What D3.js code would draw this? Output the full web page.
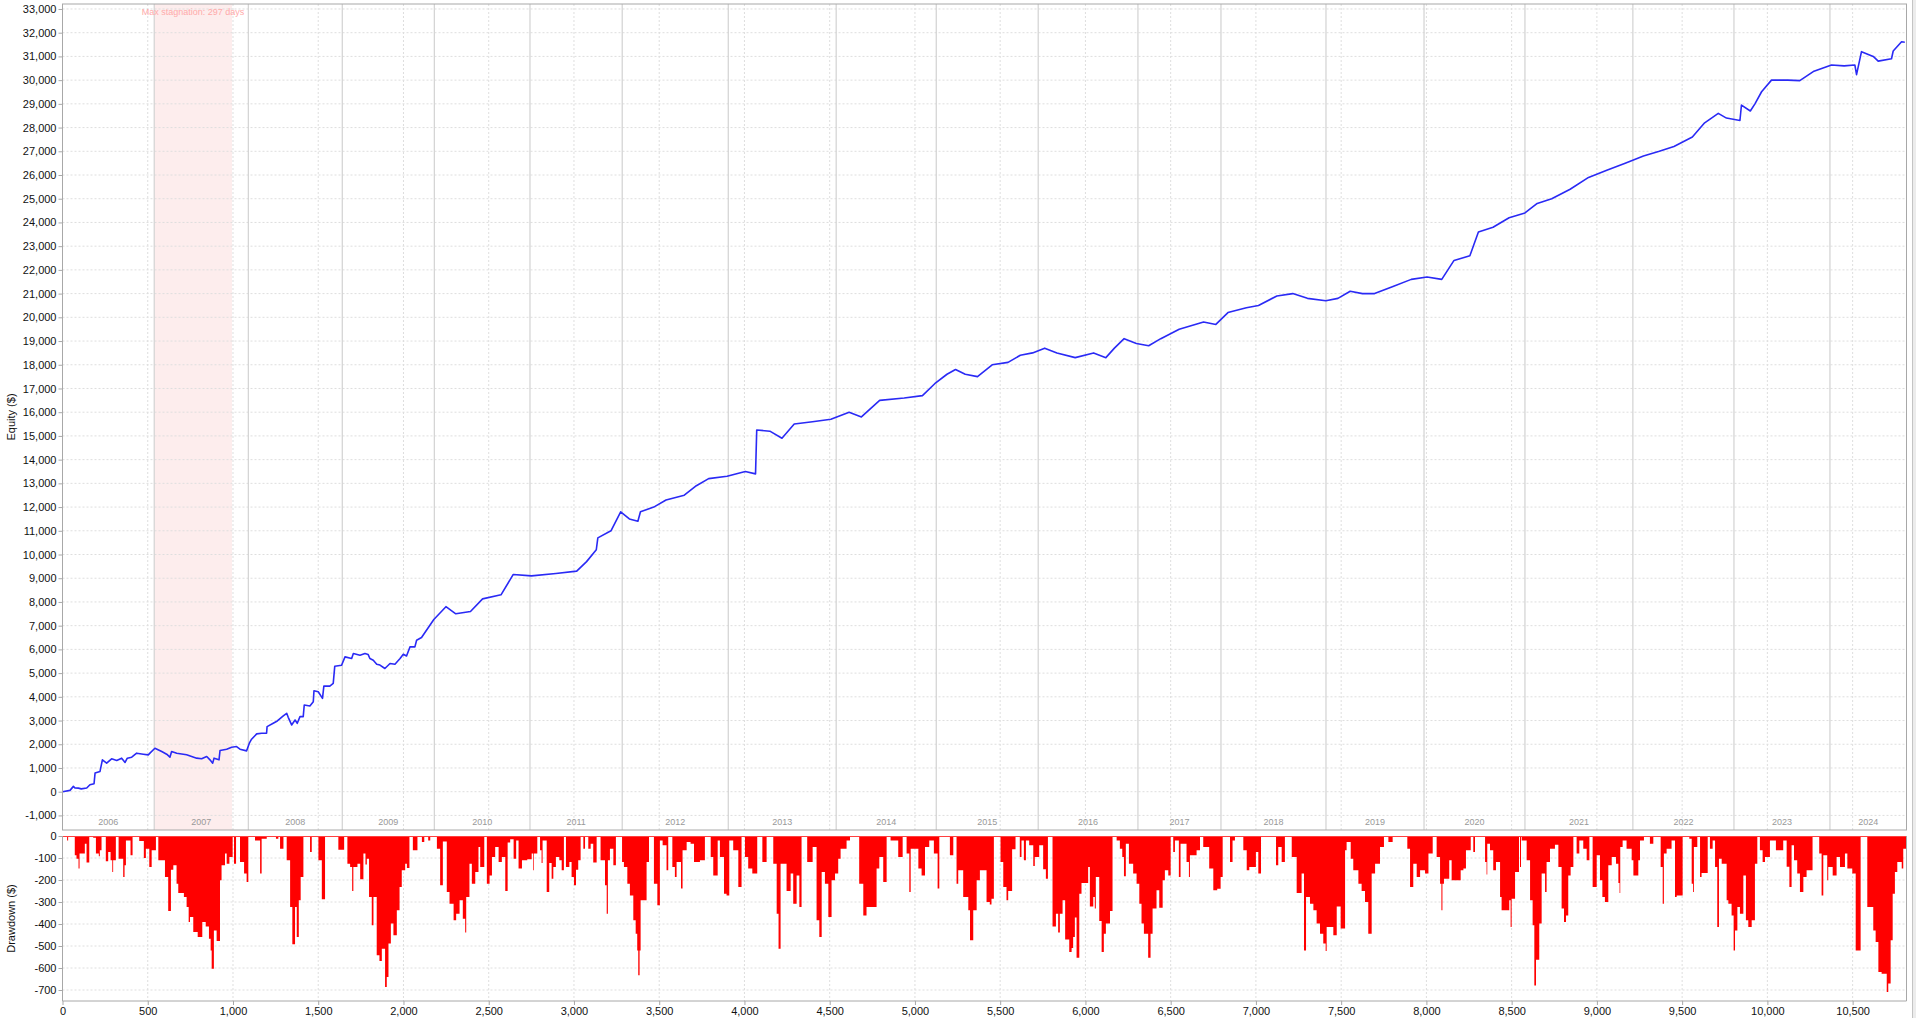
<!DOCTYPE html>
<html><head><meta charset="utf-8">
<script src="https://cdn.jsdelivr.net/npm/d3@7/dist/d3.min.js"></script>
<style>
html,body{margin:0;padding:0;background:#fff;}
svg{display:block;font-family:"Liberation Sans",Arial,sans-serif;}
</style></head>
<body>
<svg id="chart" width="1916" height="1018"></svg>
<script>
// ---------- DATA ----------
const tradeCount = 10816;
const years = ["2006","2007","2008","2009","2010","2011","2012","2013","2014","2015","2016","2017","2018","2019","2020","2021","2022","2023","2024"];
const yearStart = [0,538,1090,1641,2181,2742,3283,3905,4538,5125,5723,6308,6795,7411,7986,8578,9211,9804,10367];
const stagnationStart = 538, stagnationEnd = 994;
const stagnationLabel = "Max stagnation: 297 days";
const equityTicks = d3.range(-1000, 33001, 1000);
const drawdownTicks = d3.range(-700, 1, 100);
const tradeTicks = d3.range(0, 10501, 500);

// equity curve: trade index / equity ($)
const eqIdx = [0,44,64,73,93,110,142,161,185,191,220,234,259,288,318,347,367,380,406,435,474,503,513,542,582,611,630,640,670,728,787,816,846,865,881,889,918,924,963,992,1021,1041,1080,1096,1109,1139,1168,1197,1200,1236,1260,1295,1315,1324,1344,1364,1377,1393,1412,1418,1451,1471,1475,1500,1525,1533,1568,1588,1597,1637,1657,1696,1706,1745,1774,1793,1803,1823,1843,1862,1891,1921,1950,1980,1999,2018,2038,2067,2077,
 2106,2178,2249,2307,2393,2464,2572,2644,2751,2894,3016,3074,3131,3140,3217,3274,3325,3375,3390,3468,3540,3647,3718,3790,3898,4005,4065,4072,4149,4220,4292,4399,4507,4614,4686,4793,4937,5044,5116,5188,5238,5295,5367,5453,5546,5618,5690,5761,5833,5940,6048,6120,6170,6227,6299,6371,6442,6550,6693,6765,6836,6944,7015,7123,7216,7302,7410,7481,7553,7625,7696,7804,7911,8004,8090,8162,8255,8305,8391,8485,8578,8650,8735,8843,8951,9058,9166,9273,9366,9452,9560,9632,9712,9760,9839,9848,9900,9927,9966,10024,10120,10190,10269,10376,10450,10513,10523,10552,10621,10650,10728,10738,10787,10806];
const eqVal = [0,56,224,154,150,120,154,294,336,784,854,1344,1204,1386,1316,1414,1232,1414,1456,1624,1582,1554,1624,1834,1694,1582,1456,1694,1624,1554,1414,1386,1484,1344,1204,1414,1344,1736,1792,1876,1904,1792,1722,2044,2212,2436,2464,2464,2744,2884,2982,3192,3304,3136,2814,3024,2884,3164,3164,3654,3612,3794,4256,4214,3934,4452,4452,4564,5292,5334,5684,5614,5824,5754,5824,5780,5614,5544,5376,5340,5194,5404,5376,5614,5796,5720,6104,6104,6384,
 6500,7257,7800,7500,7600,8130,8300,9160,9100,9200,9300,9700,10200,10700,11000,11800,11500,11400,11800,12000,12300,12500,12900,13200,13300,13500,13400,15250,15200,14900,15500,15600,15700,16000,15800,16500,16600,16700,17200,17600,17800,17600,17500,18000,18100,18400,18500,18700,18500,18300,18500,18300,18700,19100,18900,18800,19100,19500,19800,19700,20200,20400,20500,20900,21000,20800,20700,20800,21100,21000,21000,21300,21600,21700,21600,22400,22600,23600,23800,24200,24400,24800,25000,25400,25900,26200,26500,26800,27000,27200,27600,28200,28600,28400,28300,28950,28700,29000,29510,30000,30000,29980,30360,30640,30600,30640,30230,31200,31000,30800,30900,31230,31620,31600];

// drawdown: trade index where a level starts / drawdown ($)
const ddIdx = [0,27,33,72,82,94,100,131,141,157,180,196,213,219,229,254,268,282,292,297,313,329,356,364,372,399,411,450,477,489,509,523,548,562,601,620,636,650,669,679,712,728,740,748,767,793,820,840,859,869,875,888,904,924,933,953,963,979,998,1006,1018,1041,1065,1080,1090,1129,1159,1168,1198,1252,1266,1276,1296,1315,1335,1348,1364,1374,1386,1397,1413,1452,1462,1501,1521,1540,1618,1652,1671,1687,1699,1706,1730,1746,1765,1777,1785,1798,1814,1824,1843,1859,1873,1892,1902,1912,1926,1941,1961,1977,1990,2010,2020,2035,2055,2082,2108,2122,2145,2157,2196,2215,2231,2254,2270,2294,2309,2329,2348,2362,2368,2387,2401,2421,2440,2450,2474,2489,2505,2519,2538,2558,2577,2597,2611,2626,2646,2661,2675,2695,
 2726,2752,2761,2765,2785,2801,2810,2816,2840,2855,2869,2879,2894,2914,2928,2941,2953,2973,2986,3000,3012,3025,3039,3055,3065,3084,3098,3113,3133,3156,3182,3192,3199,3211,3231,3246,3282,3293,3313,3328,3348,3362,3371,3377,3385,3391,3426,3440,3469,3489,3504,3520,3543,3553,3577,3592,3602,3628,3637,3661,3684,3704,3739,3768,3802,3817,3843,3856,3880,3895,3911,3934,3964,3983,4003,4022,4046,4075,4105,4130,4169,4189,4200,4212,4247,4271,4286,4306,4322,4335,4368,4400,4423,4439,4453,4472,4492,4511,4531,4550,4564,4599,4619,4673,4697,4716,4775,4791,4814,4834,4857,4902,4928,4951,4967,4975,5020,5039,5059,5084,5111,5133,5143,5205,5225,5244,5254,5283,5313,5323,5342,5362,5381,
 5420,5439,5449,5463,5502,5518,5537,5547,5570,5590,5615,5625,5639,5651,5670,5694,5703,5729,5752,5768,5780,5807,5827,5840,5850,5866,5881,5905,5919,5928,5938,5948,5964,5977,6016,6026,6046,6055,6061,6081,6095,6108,6120,6144,6159,6183,6202,6216,6226,6237,6255,6280,6300,6316,6329,6343,6368,6382,6394,6417,6433,6453,6466,6486,6500,6515,6525,6548,6558,6593,6607,6613,6652,6672,6691,6726,6750,6773,6793,6805,6848,6863,6877,6926,6946,6961,7000,7014,7030,7118,7131,7151,7170,7210,7239,7268,7282,7294,7317,7337,7356,7376,7395,7409,7415,7454,7474,7497,7523,7532,7556,7571,7601,7620,7640,7659,7679,7699,7728,7751,7777,7802,7888,7904,7923,7943,7963,7992,8012,8037,8060,8080,8088,8094,
 8103,8134,8148,8201,8217,8232,8260,8275,8285,8344,8353,8357,8373,8392,8408,8432,8441,8486,8494,8500,8520,8543,8549,8555,8559,8588,8608,8623,8633,8643,8662,8676,8696,8705,8725,8754,8774,8793,8807,8819,8832,8846,8862,8881,8897,8920,8940,8956,8975,8999,9018,9032,9047,9067,9087,9112,9126,9133,9137,9151,9174,9204,9214,9243,9253,9276,9311,9331,9374,9386,9393,9409,9438,9458,9468,9503,9542,9556,9564,9569,9589,9605,9614,9650,9663,9679,9693,9706,9716,9732,9761,9771,9790,9802,9810,9824,9839,9859,9874,9888,9908,9927,9941,9956,9972,9986,10015,10050,10093,10113,10129,10142,10156,10175,10191,10211,10230,10265,10304,10318,10328,10351,10357,10383,10406,10426,10455,10469,10498,10518,10547,10586,10621,10635,10651,10670,10700,10709,10723,10735,10748,10762,10788,10797];
const ddVal = [0,-20,0,-88,-103,-148,-80,-35,-121,0,-8,-80,-92,-65,0,-115,-73,-110,-164,-110,0,-103,-186,-133,-20,-88,0,-23,-100,-58,-141,-65,0,-110,-186,-341,-153,-133,-217,-259,-277,-323,-391,-368,-436,-459,-391,-411,-467,-520,-603,-429,-477,-201,-133,-80,-126,-95,0,-126,-5,-118,-171,-209,0,-20,-171,-12,0,-12,0,-58,0,-110,-323,-492,-323,-459,-292,-186,0,-73,0,-110,-288,0,-62,0,-126,-141,-250,-141,-126,-197,-80,-130,-103,-277,-406,-277,-542,-568,-512,-686,-641,-489,-398,-451,-338,-232,-156,-126,-145,0,-65,0,-27,0,-20,0,-58,-224,-25,-255,-308,-383,-353,-292,-376,-439,-277,-126,-217,-164,-50,-141,0,-217,-179,-95,-50,-118,-95,-250,-30,-15,-103,-20,-148,-110,
 -106,-80,-156,-80,0,-65,-123,-20,-255,-123,-194,-141,-95,-110,-156,0,-141,-118,-186,-224,-153,-110,0,-58,0,-58,-35,-121,0,-110,-224,-353,-110,-58,-133,0,-118,-141,-217,-270,-383,-444,-520,-633,-520,-292,-118,0,-217,-315,-20,-42,-156,0,-141,-186,-118,-239,-65,-27,-35,-118,-110,-5,-95,-179,-20,-95,-262,-270,-20,-65,-232,0,-95,-148,-171,0,-118,0,-126,-353,-512,-126,-250,-171,-308,-180,-323,0,-118,-50,-383,-459,-164,-217,-368,-201,-171,-103,-58,-20,0,-217,-361,-323,-148,-95,-209,0,-20,-95,0,-80,-255,-58,-148,-179,-50,-20,-80,-239,0,-88,0,-217,-156,-277,-338,-474,-338,-201,-156,
 -300,-311,-285,0,-118,-232,-292,-250,-60,0,-95,-20,-110,-20,-42,-136,-95,-42,-151,-194,0,-411,-353,-439,-353,-292,-471,-527,-509,-459,-370,-553,-262,-214,-141,-320,-277,-330,-186,-386,-527,-444,-398,-341,0,-20,-58,-95,-183,-35,-126,-171,-217,-308,-398,-444,-553,-444,-330,-247,-326,-201,-156,-180,-5,-73,-20,-186,-35,-118,-186,-88,-65,0,-50,-148,-247,-240,-186,0,-118,-20,0,-65,-156,-141,-73,-171,-5,-133,-50,-118,0,-95,-259,-171,-520,-277,-308,-338,-398,-444,-489,-523,-414,-451,-320,-421,-65,-27,-103,-156,-217,-250,-300,-444,-171,-126,-50,0,-27,0,-58,-232,-126,-186,-156,-171,-80,0,-95,-217,-338,-217,
 -194,-110,-201,-156,-148,-65,0,-73,0,-118,-175,-35,-65,-156,-118,-277,-338,-292,-414,-285,-164,0,-141,0,-20,-110,-292,-406,-679,-562,-398,-171,-255,-118,-58,-40,-141,-330,-391,-361,-179,-141,0,-80,-20,-58,-110,0,-232,-88,-201,-277,-300,-133,-95,-126,-214,-259,-50,-20,-58,-110,-179,-110,-20,0,-35,0,-141,-308,-80,-58,-20,-277,-270,0,-12,-217,-255,-50,0,-186,-168,0,-58,-20,-141,-414,-103,-126,-292,-308,-361,-520,-429,-323,-353,-180,-383,-414,-383,-126,0,-65,-118,-95,-20,-65,-20,-140,-232,-42,-110,-171,-255,-186,-156,0,-80,-270,-88,-201,-141,-179,-95,-141,-80,-148,-171,-520,0,-323,-429,-482,-618,-626,-709,-671,-474,-262,-164,-118,-148,-58];

// ---------- LAYOUT ----------
const svg = d3.select("#chart");
const L = 62.5, R = 1906.5;
const eqTop = 4, eqBot = 830, ddTop = 836, ddBot = 1001;

const x = d3.scaleLinear().domain([0, tradeCount]).range([L, R]);
const yEq = d3.scaleLinear().domain([-1615, 33210]).range([eqBot, eqTop]);
const yDD = d3.scaleLinear().domain([-750, 0]).range([ddBot, ddTop]);
const fmt = d => d3.format(",")(d).replace("\u2212", "-");

svg.append("rect").attr("width",1916).attr("height",1018).attr("fill","#fff");
const defs = svg.append("defs");
defs.append("clipPath").attr("id","cEq").append("rect").attr("x",L).attr("y",eqTop).attr("width",R-L).attr("height",eqBot-eqTop);
defs.append("clipPath").attr("id","cDD").append("rect").attr("x",L).attr("y",ddTop).attr("width",R-L).attr("height",ddBot-ddTop);

// stagnation band
svg.append("rect")
  .attr("x", x(stagnationStart)).attr("y", eqTop)
  .attr("width", x(stagnationEnd)-x(stagnationStart)).attr("height", eqBot-eqTop)
  .attr("fill", "#fdeded");

const gridColor = "#dedede";
// equity gridlines
const gEq = svg.append("g");
gEq.selectAll("line.h").data(equityTicks).join("line")
  .attr("x1", L).attr("x2", R).attr("y1", d=>yEq(d)).attr("y2", d=>yEq(d))
  .attr("stroke", gridColor).attr("stroke-dasharray","2,2");
gEq.selectAll("line.v").data(tradeTicks.slice(1)).join("line")
  .attr("y1", eqTop).attr("y2", eqBot).attr("x1", d=>x(d)).attr("x2", d=>x(d))
  .attr("stroke", gridColor).attr("stroke-dasharray","2,2");
// year separators
gEq.selectAll("line.y").data(yearStart.slice(1)).join("line")
  .attr("y1", eqTop).attr("y2", eqBot).attr("x1", d=>x(d)).attr("x2", d=>x(d))
  .attr("stroke", "#d2d2d2").attr("stroke-width", 1.2);

// drawdown gridlines
const gDD = svg.append("g");
gDD.selectAll("line.h").data(drawdownTicks.slice(0,-1)).join("line")
  .attr("x1", L).attr("x2", R).attr("y1", d=>yDD(d)).attr("y2", d=>yDD(d))
  .attr("stroke", gridColor).attr("stroke-dasharray","2,2");
gDD.selectAll("line.v").data(tradeTicks.slice(1)).join("line")
  .attr("y1", ddTop).attr("y2", ddBot).attr("x1", d=>x(d)).attr("x2", d=>x(d))
  .attr("stroke", gridColor).attr("stroke-dasharray","2,2");

// stagnation label
svg.append("text").attr("x", (x(stagnationStart)+x(stagnationEnd))/2).attr("y", 15)
  .attr("text-anchor","middle").attr("font-size", 9).attr("fill","#ffaaaa").text(stagnationLabel);

// year labels
const yearEnds = yearStart.slice(1).concat([tradeCount]);
svg.append("g").selectAll("text").data(years).join("text")
  .attr("x", (d,i)=> (x(yearStart[i]) + x(yearEnds[i]))/2)
  .attr("y", 825)
  .attr("text-anchor","middle").attr("font-size", 9).attr("fill","#999")
  .text(d=>d);

// equity line
const eqData = eqIdx.map((d,i)=>({i:d, v:eqVal[i]}));
svg.append("path").datum(eqData)
  .attr("clip-path","url(#cEq)")
  .attr("fill","none").attr("stroke","#2a2af5").attr("stroke-width",1.6)
  .attr("stroke-linejoin","round")
  .attr("d", d3.line().x(d=>x(d.i)).y(d=>yEq(d.v)));

// drawdown area
const ddData = ddIdx.map((d,i)=>({i:d, v:ddVal[i]}));
ddData.push({i:tradeCount, v:ddVal[ddVal.length-1]});
svg.append("path").datum(ddData)
  .attr("clip-path","url(#cDD)")
  .attr("fill","#ff0000")
  .attr("d", d3.area().curve(d3.curveStepAfter).x(d=>x(d.i)).y0(yDD(0)).y1(d=>yDD(d.v)));
svg.append("line").attr("x1",L).attr("x2",R).attr("y1",ddTop+0.5).attr("y2",ddTop+0.5)
  .attr("stroke","#ff4040").attr("stroke-width",1);

// borders
const borderColor = "#a8a8a8";
svg.append("rect").attr("x",L).attr("y",eqTop).attr("width",R-L).attr("height",eqBot-eqTop)
  .attr("fill","none").attr("stroke",borderColor);
svg.append("line").attr("x1",L).attr("x2",L).attr("y1",ddTop).attr("y2",ddBot).attr("stroke",borderColor);
svg.append("line").attr("x1",R).attr("x2",R).attr("y1",ddTop).attr("y2",ddBot).attr("stroke",borderColor);
svg.append("line").attr("x1",L).attr("x2",R).attr("y1",ddBot).attr("y2",ddBot).attr("stroke",borderColor);
svg.append("rect").attr("x",1912).attr("y",0).attr("width",4).attr("height",1018).attr("fill","#ececec");
svg.append("line").attr("x1",1912.5).attr("x2",1912.5).attr("y1",0).attr("y2",1018).attr("stroke","#c4c4c4");

// axes
function styleAxis(g){
  g.select(".domain").remove();
  g.selectAll(".tick line").attr("stroke", borderColor);
  g.selectAll(".tick text").attr("fill","#111").attr("font-size",11)
    .attr("font-family",'"Liberation Sans",Arial,sans-serif');
}
svg.append("g").attr("transform",`translate(${L},0)`)
  .call(d3.axisLeft(yEq).tickValues(equityTicks).tickFormat(fmt).tickSize(4).tickPadding(2))
  .call(styleAxis);
svg.append("g").attr("transform",`translate(${L},0)`)
  .call(d3.axisLeft(yDD).tickValues(drawdownTicks).tickFormat(fmt).tickSize(4).tickPadding(2))
  .call(styleAxis);
svg.append("g").attr("transform",`translate(0,${ddBot})`)
  .call(d3.axisBottom(x).tickValues(tradeTicks).tickFormat(fmt).tickSize(4).tickPadding(2))
  .call(styleAxis);

// axis titles
svg.append("text").attr("transform",`translate(15,${(eqTop+eqBot)/2}) rotate(-90)`)
  .attr("text-anchor","middle").attr("font-size",11).attr("fill","#111").text("Equity ($)");
svg.append("text").attr("transform",`translate(15,${(ddTop+ddBot)/2}) rotate(-90)`)
  .attr("text-anchor","middle").attr("font-size",11).attr("fill","#111").text("Drawdown ($)");
</script>
</body></html>
